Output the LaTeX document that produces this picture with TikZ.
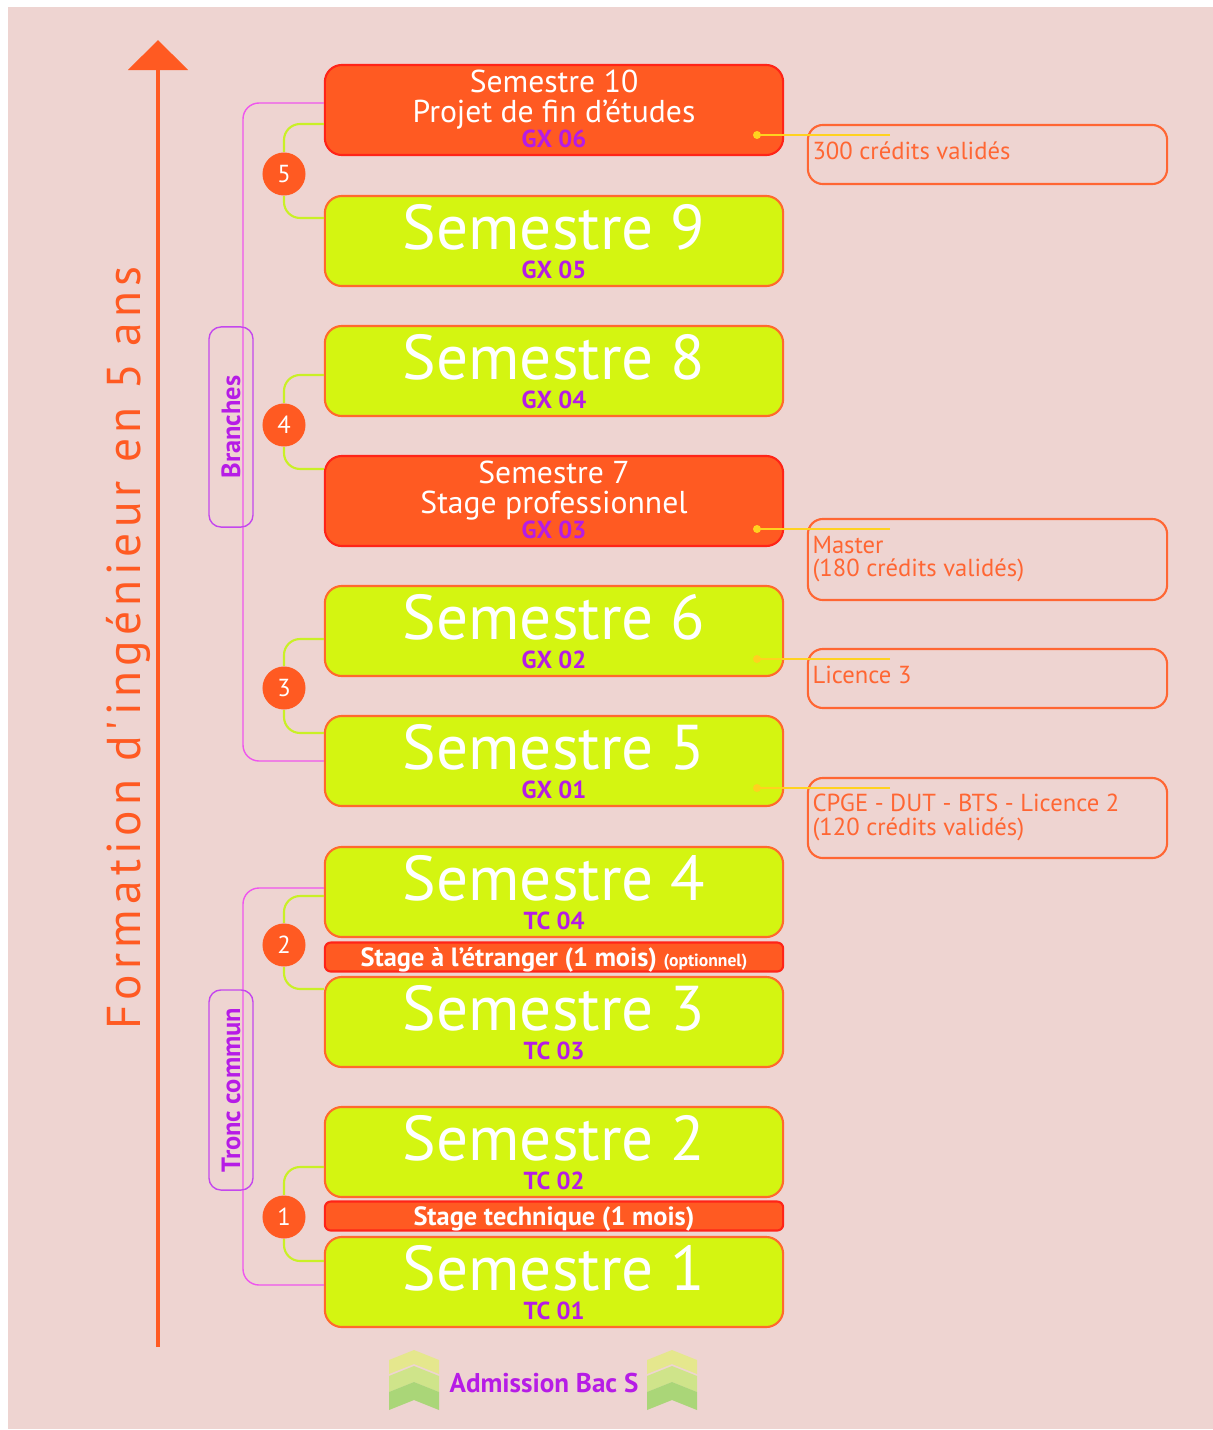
\documentclass[tikz,border=0pt]{standalone}
\usepackage{fontspec}
\setmainfont{PT Sans}
\newfontfamily\spacedfont[LetterSpace=11]{PT Sans}
\usepackage{tikz}
\usetikzlibrary{arrows.meta}

\definecolor{bgpink}{HTML}{EED4D1}
\definecolor{semlime}{HTML}{D4F511}
\definecolor{semorange}{HTML}{FF5A22}
\definecolor{limeedge}{HTML}{FF6A2C}
\definecolor{rededge}{HTML}{FF2418}
\definecolor{codepurple}{HTML}{B61CE6}
\definecolor{yearlime}{HTML}{C9F026}
\definecolor{magline}{HTML}{EE55EE}
\definecolor{groupedge}{HTML}{C447EE}
\definecolor{noteorange}{HTML}{FF6633}
\definecolor{linegold}{HTML}{FFD21F}
\definecolor{chevA}{HTML}{E5E78D}
\definecolor{chevB}{HTML}{CFE48A}
\definecolor{chevC}{HTML}{AAD678}

\newcommand{\code}[1]{{\color{codepurple}\bfseries\fontsize{7}{7}\selectfont #1}}

\tikzset{
  sembox/.style={draw=limeedge, fill=semlime, line width=0.6pt, rounded corners=0.17cm, minimum width=4.58cm, minimum height=0.9cm},
  pfebox/.style={sembox, draw=rededge, fill=semorange},
  stagebar/.style={draw=rededge, fill=semorange, line width=0.6pt, rounded corners=0.06cm, minimum width=4.58cm, minimum height=0.29cm, inner sep=0pt},
  bigtxt/.style={text=white, align=center, anchor=base, inner sep=0pt, font=\fontsize{18}{18}\selectfont},
  midtxt/.style={text=white, align=center, anchor=base, inner sep=0pt, font=\fontsize{9}{8.5}\selectfont},
  stagetxt/.style={text=white, anchor=base, inner sep=0pt, font=\bfseries\fontsize{7.5}{7.5}\selectfont},
  yearcircle/.style={circle, fill=semorange, minimum size=0.43cm, inner sep=0pt, text=white, font=\fontsize{7}{7}\selectfont},
  yearlink/.style={draw=yearlime, line width=0.6pt, rounded corners=0.16cm},
  branchline/.style={draw=magline, line width=0.4pt, rounded corners=0.16cm},
  groupbox/.style={draw=groupedge, line width=0.4pt, rounded corners=0.12cm, minimum width=2cm, minimum height=0.44cm, rotate=90, text=codepurple, font=\bfseries\fontsize{7.5}{7.5}\selectfont},
  notebox/.style={draw=noteorange, line width=0.6pt, rounded corners=0.15cm, minimum width=3.59cm},
  notetxt/.style={text=noteorange, anchor=base west, inner sep=0pt, font=\fontsize{7}{7}\selectfont},
  goldlink/.style={draw=linegold, line width=0.6pt},
  timeline/.style={draw=semorange, line width=1.4pt, -{Triangle[width=0.59cm,length=0.3cm]}},
}

\begin{document}
\begin{tikzpicture}[x=0.01cm,y=-0.01cm]
    \useasboundingbox (0,0) rectangle (1213,1430);
    \fill[white] (0,0) rectangle (1213,1430);
    \fill[bgpink] (8,7) rectangle (1213,1429);

    % time arrow
    \coordinate [] (tbot) at (158,1347);
    \coordinate [] (ttop) at (158,40);
    \draw[timeline] (tbot) -- (ttop);
    \node[rotate=90, anchor=base, inner sep=0pt, text=semorange, font=\spacedfont\fontsize{13.5}{13.5}\selectfont] (title) at (140,648) {Formation d'ingénieur en 5 ans};

    % semesters
    \node[pfebox] (s10) at (554,110) {};
    \node[pfebox] (s7) at (554,501) {};
    \foreach \n/\y/\c in {9/241/GX 05, 8/371/GX 04, 6/631/GX 02, 5/761/GX 01, 4/892/TC 04, 3/1022/TC 03, 2/1152/TC 02, 1/1282/TC 01}{
        \node[sembox] (s\n) at (554,\y) {};
        \node[bigtxt] at ([yshift=-0.37cm]s\n.center) {Semestre \n\\[-10pt]\code{\c}};
    }
    \node[midtxt] at ([yshift=-0.37cm]s10.center) {Semestre 10\\Projet de fin d'études\\[-1.4pt]\code{GX 06}};
    \node[midtxt] at ([yshift=-0.37cm]s7.center) {Semestre 7\\Stage professionnel\\[-1.4pt]\code{GX 03}};

    % internships
    \node[stagebar] (st2) at (554,957) {};
    \node[stagetxt] at ([yshift=-0.09cm]st2.center) {Stage à l'étranger (1 mois) {\fontsize{5}{5}\selectfont(optionnel)}};
    \node[stagebar] (st1) at (554,1216) {};
    \node[stagetxt] at ([yshift=-0.09cm]st1.center) {Stage technique (1 mois)};

    % groups
    \draw[branchline] ([yshift=0.07cm]s10.west) -| (243,430) |- (s5.west);
    \draw[branchline] ([yshift=0.04cm]s4.west) -| (243,1090) |- ([yshift=-0.03cm]s1.west);
    \node[groupbox] (branches) at (231,427) {Branches};
    \node[groupbox] (tronc) at (231,1090) {Tronc commun};

    % years
    \foreach \n/\y in {5/174, 4/425, 3/688, 2/945, 1/1217}
        \node[yearcircle] (y\n) at (284,\y) {\n};
    \draw[yearlink] (y5.north) |- ([yshift=-0.14cm]s10.west);
    \draw[yearlink] (y5.south) |- ([yshift=0.23cm]s9.west);
    \draw[yearlink] (y4.north) |- ([yshift=-0.04cm]s8.west);
    \draw[yearlink] (y4.south) |- ([yshift=0.32cm]s7.west);
    \draw[yearlink] (y3.north) |- ([yshift=-0.08cm]s6.west);
    \draw[yearlink] (y3.south) |- ([yshift=0.28cm]s5.west);
    \draw[yearlink] (y2.north) |- ([yshift=-0.04cm]s4.west);
    \draw[yearlink] (y2.south) |- ([yshift=0.33cm]s3.west);
    \draw[yearlink] (y1.north) |- ([yshift=-0.15cm]s2.west);
    \draw[yearlink] (y1.south) |- ([yshift=0.21cm]s1.west);

    % diplomas
    \node[notebox, minimum height=0.59cm] (a10) at (987.5,154.5) {};
    \node[notetxt] at ([xshift=0.05cm,yshift=-0.36cm]a10.north west) {300 crédits validés};
    \node[notebox, minimum height=0.81cm] (a7) at (987.5,559.5) {};
    \node[notetxt] at ([xshift=0.05cm,yshift=-0.36cm]a7.north west) {Master};
    \node[notetxt] at ([xshift=0.05cm,yshift=-0.59cm]a7.north west) {(180 crédits validés)};
    \node[notebox, minimum height=0.59cm] (a6) at (987.5,678.5) {};
    \node[notetxt] at ([xshift=0.05cm,yshift=-0.36cm]a6.north west) {Licence 3};
    \node[notebox, minimum height=0.8cm] (a5) at (987.5,818) {};
    \node[notetxt] at ([xshift=0.05cm,yshift=-0.35cm]a5.north west) {CPGE - DUT - BTS - Licence 2};
    \node[notetxt] at ([xshift=0.05cm,yshift=-0.59cm]a5.north west) {(120 crédits validés)};
    \foreach \s/\y in {10/135, 7/529, 6/659, 5/788}{
        \coordinate [] (p\s) at (757,\y);
        \coordinate [] (q\s) at (890,\y);
        \draw[goldlink] (p\s) -- (q\s);
        \fill[linegold] (p\s) circle (4);
    }

    % admission
    \node[text=codepurple, font=\bfseries\fontsize{7.7}{7.7}\selectfont] (bac) at (544,1383) {Admission Bac S};
    \foreach \x in {389,647}{
        \foreach \k/\col in {0/chevA,1/chevB,2/chevC}{
            \fill[\col] (\x,{1360+16*\k}) -- (\x+25,{1350+16*\k}) -- (\x+50,{1360+16*\k}) -- (\x+50,{1374+16*\k+2*\k}) -- (\x+25,{1364+16*\k+2*\k}) -- (\x,{1374+16*\k+2*\k}) -- cycle;
        }
    }
\end{tikzpicture}
\end{document}
